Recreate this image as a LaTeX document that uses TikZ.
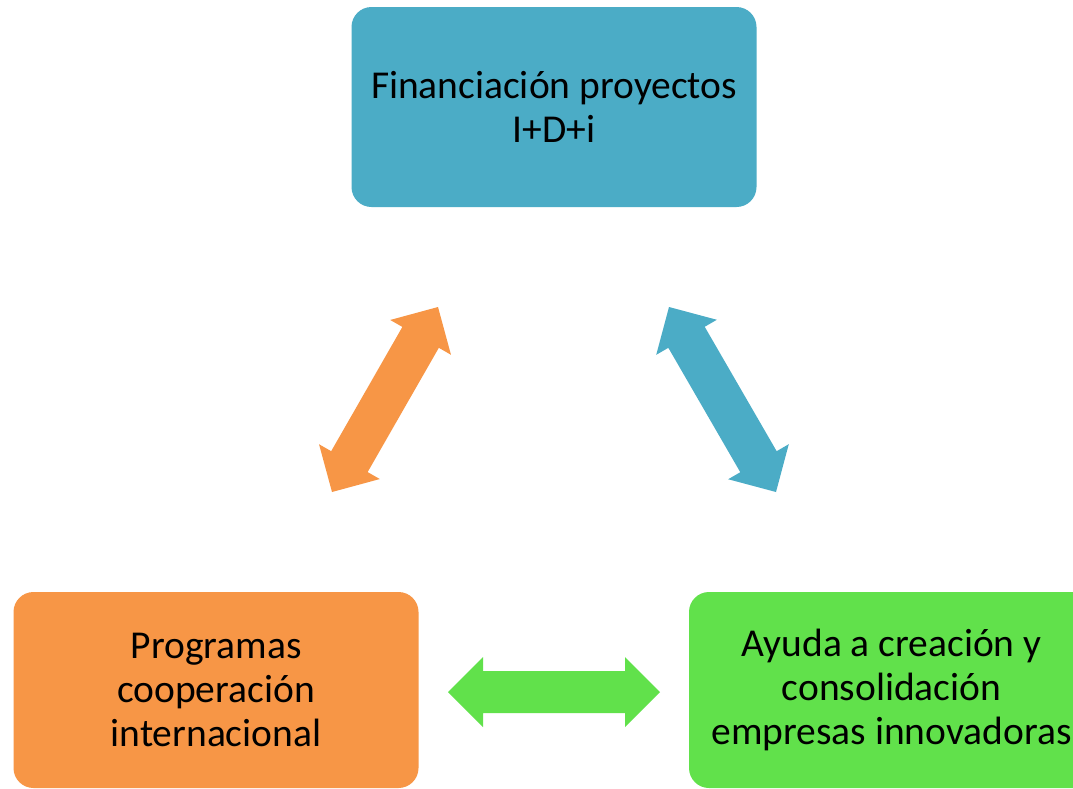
\documentclass[tikz,border=0pt]{standalone}
\usepackage{fontspec}
\setmainfont{Carlito}
\usetikzlibrary{calc}
\definecolor{cteal}{HTML}{4BACC6}
\definecolor{corange}{HTML}{F79646}
\definecolor{cgreen}{HTML}{61E14B}
\newcommand\dblarrow[3]{%
\fill[#3] (#1) -- ($(#1)!35pt!(#2)!35pt!90:(#2)$) -- ($(#1)!35pt!(#2)!21pt!90:(#2)$)
 -- ($(#2)!35pt!(#1)!21pt!-90:(#1)$) -- ($(#2)!35pt!(#1)!35pt!-90:(#1)$) -- (#2)
 -- ($(#2)!35pt!(#1)!35pt!90:(#1)$) -- ($(#2)!35pt!(#1)!21pt!90:(#1)$)
 -- ($(#1)!35pt!(#2)!21pt!-90:(#2)$) -- ($(#1)!35pt!(#2)!35pt!-90:(#2)$) -- cycle;}
\tikzset{
  box/.style={rounded corners=20pt, minimum width=405pt, inner sep=0pt, align=center,
    font=\fontsize{39.5}{44}\selectfont, text=black}
}
\begin{document}
\begin{tikzpicture}[x=1pt,y=-1pt]
\path[use as bounding box] (0,0) rectangle (1073,788);
\clip (0,0) rectangle (1073,788);
\fill[white] (0,0) rectangle (1073,788);
\node[box, fill=cteal, minimum height=200pt] (fin) at (554,107) {Financiación proyectos\\I+D+i};
\node[box, fill=corange, minimum height=196pt] (prog) at (216,690) {Programas\\cooperación\\internacional};
\node[box, fill=cgreen, minimum height=196pt] (ayuda) at (891.5,690) {Ayuda a creación y\\consolidación\\empresas innovadoras};
\coordinate (oa) at (332,492); \coordinate (ob) at (438,307);
\coordinate (ta) at (669,307); \coordinate (tb) at (776,492);
\coordinate (ga) at (448,692); \coordinate (gb) at (660,692);
\dblarrow{oa}{ob}{corange}
\dblarrow{ta}{tb}{cteal}
\dblarrow{ga}{gb}{cgreen}
\end{tikzpicture}
\end{document}
